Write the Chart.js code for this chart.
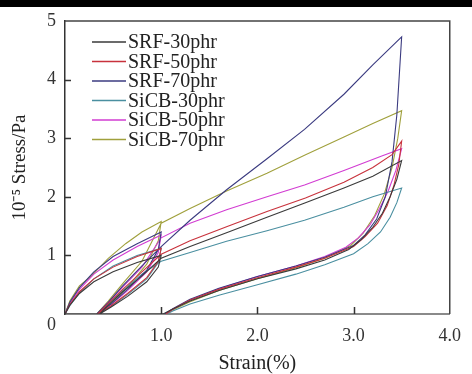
<!DOCTYPE html>
<html>
<head>
<meta charset="utf-8">
<script src="https://cdn.jsdelivr.net/npm/chart.js@4/dist/chart.umd.min.js"></script>
<style>
html,body{margin:0;padding:0;background:#fff;}
canvas{display:block;}
</style>
</head>
<body>
<canvas id="c" width="472" height="374"></canvas>
<script>
// ---- Data (strain %, stress 10^-5 Pa) ----
const seriesNames = ["SRF-30phr","SRF-50phr","SRF-70phr","SiCB-30phr","SiCB-50phr","SiCB-70phr"];
const seriesColors = ["#3a3a3a","#c8323c","#3b3b80","#4a8fa0","#d23cd2","#a0a03c"];

const srf30Strain = [0,0.05,0.15,0.3,0.5,0.75,1.0, 0.97,0.85,0.65,0.48,0.36, 0.45,0.6,0.8,1.0, 1.3,1.7,2.1,2.5,2.9,3.2,3.5, 3.45,3.38,3.3,3.2,3.08,2.95,2.7,2.4,2.0,1.6,1.3,1.1,1.02,0];
const srf30Stress = [0,0.15,0.35,0.55,0.72,0.88,1.0, 0.8,0.55,0.3,0.12,0, 0.15,0.38,0.65,0.95, 1.15,1.4,1.65,1.9,2.15,2.35,2.62, 2.3,2.0,1.72,1.48,1.27,1.1,0.92,0.77,0.6,0.4,0.22,0.07,0,0];

const srf50Strain = [0,0.05,0.15,0.3,0.5,0.75,1.0, 0.97,0.85,0.65,0.48,0.34, 0.45,0.6,0.8,1.0, 1.3,1.7,2.1,2.5,2.9,3.2,3.4,3.5, 3.47,3.42,3.35,3.25,3.12,3.0,2.7,2.4,2.0,1.6,1.3,1.12,1.05];
const srf50Stress = [0,0.16,0.38,0.6,0.8,0.98,1.12, 0.9,0.62,0.35,0.14,0, 0.18,0.42,0.72,1.02, 1.25,1.5,1.75,1.98,2.25,2.5,2.72,2.95, 2.55,2.2,1.85,1.55,1.32,1.15,0.95,0.8,0.62,0.42,0.24,0.08,0];

const srf70Strain = [0,0.05,0.15,0.3,0.5,0.75,1.0, 0.97,0.85,0.65,0.48,0.33, 0.45,0.6,0.8,1.0, 1.3,1.68,2.1,2.49,2.9,3.2,3.5, 3.45,3.4,3.33,3.24,3.12,3.0,2.7,2.4,2.0,1.6,1.3,1.12,1.04];
const srf70Stress = [0,0.2,0.45,0.72,0.98,1.2,1.4, 1.1,0.75,0.42,0.17,0, 0.2,0.48,0.82,1.15, 1.6,2.12,2.65,3.15,3.75,4.25,4.73, 3.4,2.6,2.0,1.62,1.35,1.17,0.97,0.82,0.64,0.44,0.25,0.09,0];

const sicb30Strain = [0,0.05,0.15,0.3,0.5,0.75,1.0, 0.97,0.85,0.65,0.48,0.35, 0.45,0.6,0.8,1.0, 1.3,1.68,2.1,2.49,2.9,3.2,3.5, 3.45,3.38,3.28,3.15,3.0,2.7,2.4,2.0,1.6,1.3,1.12,1.06];
const sicb30Stress = [0,0.14,0.36,0.6,0.82,1.0,1.12, 0.88,0.6,0.33,0.13,0, 0.17,0.4,0.68,0.9, 1.05,1.24,1.42,1.6,1.82,2.0,2.15, 1.9,1.65,1.4,1.2,1.03,0.84,0.68,0.5,0.32,0.17,0.05,0];

const sicb50Strain = [0,0.05,0.15,0.3,0.5,0.75,1.0, 0.97,0.85,0.65,0.48,0.34, 0.45,0.6,0.8,1.0, 1.3,1.68,2.1,2.49,2.9,3.3,3.5, 3.44,3.36,3.27,3.17,3.05,2.92,2.7,2.4,2.0,1.6,1.3,1.12,1.04];
const sicb50Stress = [0,0.18,0.42,0.68,0.92,1.15,1.35, 1.05,0.72,0.4,0.16,0, 0.2,0.46,0.8,1.3, 1.55,1.78,2.0,2.2,2.45,2.7,2.82, 2.45,2.1,1.8,1.52,1.3,1.14,0.98,0.82,0.64,0.43,0.24,0.08,0];

const sicb70Strain = [0,0.05,0.15,0.28,0.45,0.63,0.8,1.0, 0.97,0.85,0.65,0.48,0.33, 0.45,0.6,0.8,1.0, 1.3,1.68,2.1,2.49,2.9,3.2,3.5, 3.46,3.4,3.32,3.22,3.1,2.97,2.7,2.4,2.0,1.6,1.3,1.12,1.05];
const sicb70Stress = [0,0.22,0.48,0.66,0.95,1.2,1.4,1.58, 1.25,0.85,0.46,0.18,0, 0.22,0.52,0.9,1.55, 1.8,2.1,2.4,2.71,3.02,3.25,3.47, 3.0,2.5,2.05,1.68,1.38,1.17,0.95,0.79,0.6,0.4,0.21,0.07,0];

const xTicks = [0,1,2,3,4];
const yTicks = [0,1,2,3,4,5];
const xTitle = "Strain(%)";
const yTitle = "10\u207B\u2075 Stress/Pa";

const strains = [srf30Strain,srf50Strain,srf70Strain,sicb30Strain,sicb50Strain,sicb70Strain];
const stresses = [srf30Stress,srf50Stress,srf70Stress,sicb30Stress,sicb50Stress,sicb70Stress];

const datasets = seriesNames.map((name,i)=>({
  label: name,
  data: strains[i].map((x,k)=>({x:x,y:stresses[i][k]})),
  showLine: true,
  borderColor: seriesColors[i],
  backgroundColor: seriesColors[i],
  borderWidth: 1.1,
  pointRadius: 0,
  tension: 0,
  fill: false
}));

const serif = "'Liberation Serif','Times New Roman',serif";

const decor = {
  id: 'decor',
  beforeDraw(chart){
    const c = chart.ctx;
    c.save();
    c.fillStyle = '#000';
    c.fillRect(0,0,chart.width,7);
    c.restore();
  },
  afterDraw(chart){
    const c = chart.ctx, a = chart.chartArea;
    const xs = chart.scales.x, ys = chart.scales.y;
    c.save();
    // frame top/right
    c.strokeStyle = '#444';
    c.lineWidth = 1.5;
    c.beginPath();
    c.moveTo(a.left, a.top); c.lineTo(a.right, a.top); c.lineTo(a.right, a.bottom);
    c.stroke();
    // inward ticks
    c.strokeStyle = '#333';
    c.lineWidth = 1.5;
    c.beginPath();
    yTicks.forEach(v=>{
      if (v===0 || v===5) return;
      const py = Math.round(ys.getPixelForValue(v))+0.5;
      c.moveTo(a.left, py); c.lineTo(a.left+6, py);
    });
    xTicks.forEach(v=>{
      if (v===0 || v===4) return;
      const px = Math.round(xs.getPixelForValue(v))+0.5;
      c.moveTo(px, a.bottom); c.lineTo(px, a.bottom-7);
    });
    c.stroke();
    // shared origin label, set slightly below the corner
    c.font = "18px " + serif;
    c.fillStyle = '#333';
    c.textAlign = 'right';
    c.textBaseline = 'middle';
    c.fillText(String(yTicks[0]), a.left - 9, ys.getPixelForValue(0) + 11);
    // legend
    c.font = "20px " + serif;
    c.textBaseline = 'middle';
    c.textAlign = 'left';
    chart.data.datasets.forEach((ds,i)=>{
      const y = 42 + i*19.5;
      c.strokeStyle = ds.borderColor;
      c.lineWidth = 1.5;
      c.beginPath();
      c.moveTo(92, y); c.lineTo(126, y);
      c.stroke();
      c.fillStyle = '#222';
      c.fillText(ds.label, 128, y+1);
    });
    c.restore();
  }
};

new Chart(document.getElementById('c'), {
  type: 'scatter',
  data: { datasets },
  plugins: [decor],
  options: {
    responsive: false,
    animation: false,
    events: [],
    layout: { padding: { top: 21, right: 13, left: 0, bottom: 0 } },
    plugins: { legend: { display: false }, tooltip: { enabled: false } },
    scales: {
      x: {
        type: 'linear', min: 0, max: 4,
        afterFit: s => { s.height = 60; },
        afterBuildTicks: s => { s.ticks = xTicks.map(v=>({value:v})); },
        ticks: {
          callback: v => v === 0 ? '' : v.toFixed(1),
          font: { family: serif, size: 18 }, color: '#333', padding: 11, maxRotation: 0
        },
        grid: { display: false, drawTicks: false },
        border: { color: '#8a8a8a', width: 2 },
        title: { display: true, text: xTitle, font: { family: serif, size: 20, lineHeight: 1 }, color: '#222', padding: { top: 0, bottom: 0 } }
      },
      y: {
        type: 'linear', min: 0, max: 5,
        afterFit: s => { s.width = 65; },
        afterBuildTicks: s => { s.ticks = yTicks.map(v=>({value:v})); },
        ticks: {
          callback: v => v === 0 ? '' : String(v),
          font: { family: serif, size: 18 }, color: '#333', padding: 9
        },
        grid: { display: false, drawTicks: false },
        border: { color: '#333', width: 1.5 },
        title: { display: true, text: yTitle, font: { family: serif, size: 19 }, color: '#222', padding: { top: 9, bottom: 0 } }
      }
    }
  }
});
</script>
</body>
</html>
